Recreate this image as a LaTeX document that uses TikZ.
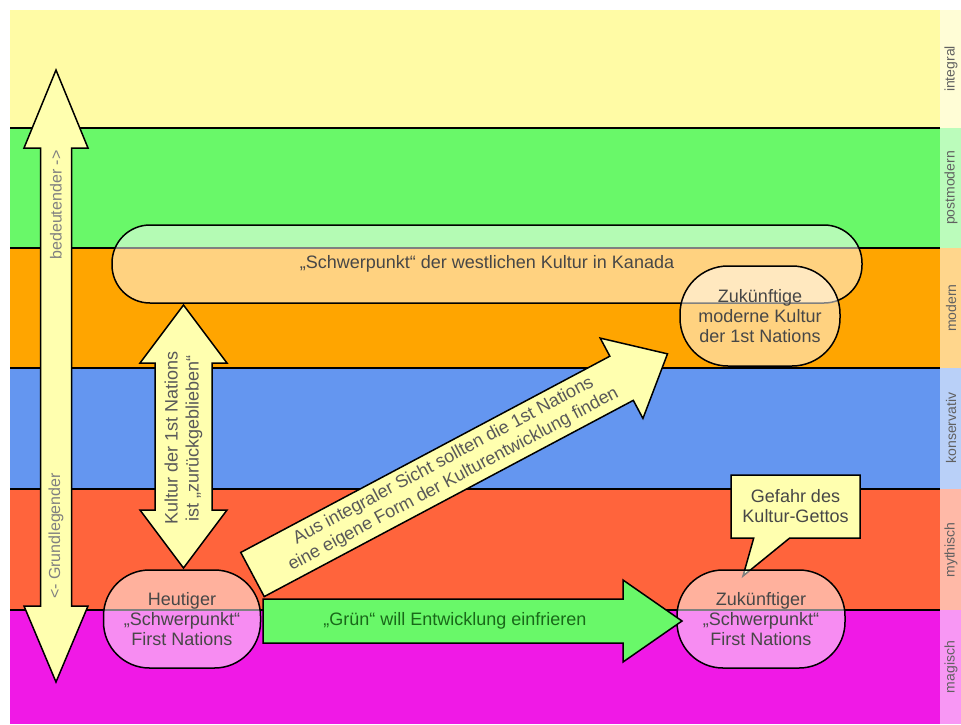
\documentclass[tikz,border=0pt]{standalone}
\usepackage{fontspec}
\setmainfont{Liberation Sans}
\usetikzlibrary{shapes.callouts,calc}

\definecolor{integralc}{RGB}{255,251,165}
\definecolor{postmodc}{RGB}{105,248,105}
\definecolor{modernc}{RGB}{255,165,0}
\definecolor{konservc}{RGB}{100,150,240}
\definecolor{mythc}{RGB}{255,100,60}
\definecolor{magc}{RGB}{240,25,230}
\definecolor{pfeilgelb}{RGB}{255,255,175}
\definecolor{gruentext}{RGB}{25,105,25}

\begin{document}
\begin{tikzpicture}[x=1pt,y=-1pt]
	% Stile
	\tikzstyle{schicht} = [rotate=90, text=black!62, font=\fontsize{14}{16}\selectfont]
	\tikzstyle{zentrum} = [rectangle, draw=black, line width=1.5pt, fill=white, fill opacity=0.5, text opacity=1, text=black!72, align=center, font=\fontsize{18}{20}\selectfont]
	\tikzstyle{pfeil} = [draw=black, line width=1.5pt, fill=pfeilgelb]
	\tikzstyle{pfeiltext} = [text=black!65, align=center, font=\fontsize{18}{21}\selectfont]
	\tikzstyle{grenze} = [draw=black, line width=1.8pt]
	\useasboundingbox (0,0) rectangle (961,724);
	% Schichten
	\fill[integralc] (10,10) rectangle (940,128);
	\fill[postmodc] (10,128) rectangle (940,248);
	\fill[modernc] (10,248) rectangle (940,368);
	\fill[konservc] (10,368) rectangle (940,489);
	\fill[mythc] (10,489) rectangle (940,610);
	\fill[magc] (10,610) rectangle (940,724);
	\fill[integralc!45!white] (940,10) rectangle (961,128);
	\fill[postmodc!45!white] (940,128) rectangle (961,248);
	\fill[modernc!45!white] (940,248) rectangle (961,368);
	\fill[konservc!45!white] (940,368) rectangle (961,489);
	\fill[mythc!45!white] (940,489) rectangle (961,610);
	\fill[magc!45!white] (940,610) rectangle (961,724);
	\draw[grenze] (10,128) -- (940,128);
	\draw[grenze] (10,248) -- (940,248);
	\draw[grenze] (10,368) -- (940,368);
	\draw[grenze] (10,489) -- (940,489);
	\draw[grenze] (10,610) -- (940,610);
	\node (lintegral) [schicht] at (951,69) {integral};
	\node (lpostmod) [schicht] at (951,188) {postmodern};
	\node (lmodern) [schicht] at (951,308) {modern};
	\node (lkonserv) [schicht] at (951,428) {konservativ};
	\node (lmyth) [schicht] at (951,550) {mythisch};
	\node (lmag) [schicht] at (951,667) {magisch};
	% Knoten
	\node (westen) [zentrum, rounded corners=38pt, minimum width=750pt, minimum height=78pt] at (487,264) {„Schwerpunkt“ der westlichen Kultur in Kanada};
	\node (modern) [zentrum, rounded corners=48pt, minimum width=160pt, minimum height=100pt] at (760,316) {Zukünftige\\moderne Kultur\\der 1st Nations};
	\node (getto) [rectangle callout, draw=black, line width=1.5pt, fill=pfeilgelb, text=black!72, align=center, font=\fontsize{18}{20}\selectfont, minimum width=129pt, minimum height=63pt, callout pointer width=36pt, callout absolute pointer={($(761,570)+(-18,6)$)}] at (795.5,506.5) {Gefahr des\\Kultur-Gettos};
	\node (heute) [zentrum, rounded corners=46pt, minimum width=157pt, minimum height=98pt] at (182,619) {Heutiger\\„Schwerpunkt“\\First Nations};
	\node (zukunft) [zentrum, rounded corners=46pt, minimum width=168pt, minimum height=98pt] at (761,619) {Zukünftiger\\„Schwerpunkt“\\First Nations};
	% Pfeile
	\draw[pfeil] (56,70) -- (88,148) -- (71.5,148) -- (71.5,606) -- (88,606) -- (56,682) -- (24,606) -- (40.5,606) -- (40.5,148) -- (24,148) -- cycle;
	\node (bedeut) [pfeiltext, rotate=90, text=black!50, font=\fontsize{16}{18}\selectfont] at (56,205) {bedeutender ->};
	\node (grundl) [pfeiltext, rotate=90, text=black!50, font=\fontsize{16}{18}\selectfont] at (56,536) {<- Grundlegender};
	\draw[pfeil] (183.5,305) -- (227,363) -- (212,363) -- (212,510) -- (227,510) -- (183.5,568) -- (140,510) -- (155,510) -- (155,363) -- (140,363) -- cycle;
	\node (zurueck) [pfeiltext, rotate=90] at (183.5,438) {Kultur der 1st Nations\\ist „zurückgeblieben“};
	\begin{scope}[shift={(252.5,574.5)}, rotate=28]
		\draw[pfeil] (0,-25) -- (418,-25) -- (418,-45.5) -- (470,0) -- (418,45.5) -- (418,25) -- (0,25) -- cycle;
		\node (eigen) [pfeiltext, rotate=28] at (222,0) {Aus integraler Sicht sollten die 1st Nations\\eine eigene Form der Kulturentwicklung finden};
	\end{scope}
	\draw[pfeil, fill=postmodc] (263,599) -- (623,599) -- (623,580) -- (682,621) -- (623,662) -- (623,643) -- (263,643) -- cycle;
	\node (einfrieren) [pfeiltext, text=gruentext] at (455,621) {„Grün“ will Entwicklung einfrieren};
\end{tikzpicture}
\end{document}
